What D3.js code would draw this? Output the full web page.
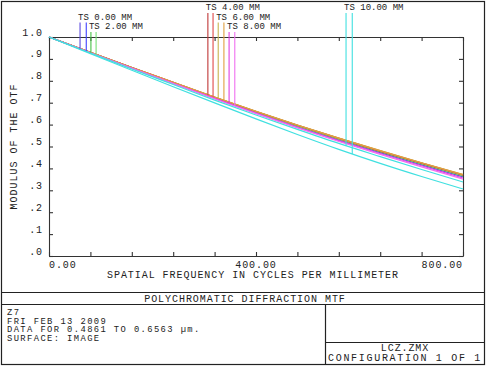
<!DOCTYPE html>
<html><head><meta charset="utf-8">
<script src="https://cdn.jsdelivr.net/npm/d3@7"></script>
<style>
html,body{margin:0;padding:0;background:#fff;}
svg text{font-family:"Liberation Mono","DejaVu Sans Mono",monospace;fill:#222;}
</style></head>
<body><svg id="c" width="490" height="367"></svg>
<script>
// ---- data ----
const freqs = [0,80,160,240,320,400,480,560,640,720,800];
const xTickValues = [0,80,160,240,320,400,480,560,640,720,800];
const xTickLabels = ["0.00","","","","","400.00","","","","","800.00"];
const yTickValues = [0,0.1,0.2,0.3,0.4,0.5,0.6,0.7,0.8,0.9,1.0];
const yTickLabels = [".0",".1",".2",".3",".4",".5",".6",".7",".8",".9","1.0"];
const fieldNames = ["TS 0.00 MM","TS 2.00 MM","TS 4.00 MM","TS 6.00 MM","TS 8.00 MM","TS 10.00 MM"];
// MTF per field, tangential (T) and sagittal (S)
const mtf0T  = [1.000,0.929,0.859,0.790,0.722,0.656,0.592,0.531,0.473,0.417,0.362];
const mtf0S  = [1.000,0.929,0.859,0.790,0.722,0.656,0.592,0.531,0.473,0.417,0.362];
const mtf2T  = [1.000,0.929,0.860,0.791,0.724,0.658,0.594,0.534,0.476,0.421,0.366];
const mtf2S  = [1.000,0.929,0.860,0.791,0.724,0.658,0.594,0.534,0.476,0.421,0.366];
const mtf4T  = [1.000,0.930,0.861,0.793,0.725,0.660,0.597,0.537,0.479,0.424,0.370];
const mtf4S  = [1.000,0.930,0.861,0.793,0.725,0.660,0.597,0.537,0.479,0.424,0.369];
const mtf6T  = [1.000,0.930,0.861,0.793,0.726,0.661,0.598,0.538,0.481,0.426,0.372];
const mtf6S  = [1.000,0.930,0.861,0.793,0.726,0.661,0.598,0.538,0.481,0.426,0.372];
const mtf8T  = [1.000,0.928,0.858,0.788,0.720,0.653,0.588,0.527,0.468,0.412,0.356];
const mtf8S  = [1.000,0.928,0.857,0.787,0.718,0.650,0.585,0.523,0.464,0.407,0.351];
const mtf10T = [1.000,0.927,0.854,0.783,0.712,0.644,0.578,0.514,0.454,0.395,0.338];
const mtf10S = [1.000,0.924,0.848,0.773,0.699,0.626,0.555,0.487,0.423,0.363,0.306];
// legend marker frequencies (T line, S line) and label rows
const markerFreqs = [[60,72],[81,91],[307,317],[327,338],[348,359],[574,586]];
const labelRows = [1,2,0,1,2,0];
const colorsT = ["#5a48e0","#44c044","#c03838","#c8b450","#e040e0","#40e0e0"];
const colorsS = ["#4040ff","#78e078","#e04848","#e0a040","#f070f0","#40e0e0"];
const infoLines = ["Z7","FRI FEB 13 2009","DATA FOR 0.4861 TO 0.6563 \u00b5m.","SURFACE: IMAGE"];

// ---- drawing ----
const svg = d3.select("#c");
const L=49, R=463, T=37, B=256;
const x = d3.scaleLinear().domain([0,800]).range([L,R]);
const y = d3.scaleLinear().domain([0,1]).range([B,T]);

const series = [
  {f:0,k:"T",v:mtf0T},{f:0,k:"S",v:mtf0S},
  {f:1,k:"T",v:mtf2T},{f:1,k:"S",v:mtf2S},
  {f:2,k:"T",v:mtf4T},{f:2,k:"S",v:mtf4S},
  {f:3,k:"T",v:mtf6T},{f:3,k:"S",v:mtf6S},
  {f:4,k:"T",v:mtf8T},{f:4,k:"S",v:mtf8S},
  {f:5,k:"T",v:mtf10T},{f:5,k:"S",v:mtf10S}
];

// outer frame & info boxes
const fr = svg.append("g").attr("stroke","#222").attr("fill","none").attr("stroke-width",1.2);
fr.append("rect").attr("x",1.5).attr("y",1.5).attr("width",483).attr("height",363);
fr.append("line").attr("x1",1.5).attr("x2",484.5).attr("y1",292.5).attr("y2",292.5);
fr.append("line").attr("x1",1.5).attr("x2",484.5).attr("y1",304.5).attr("y2",304.5);
fr.append("line").attr("x1",325.5).attr("x2",325.5).attr("y1",304.5).attr("y2",364.5);
fr.append("line").attr("x1",325.5).attr("x2",484.5).attr("y1",342.5).attr("y2",342.5);

// axes
const xb = d3.axisBottom(x).tickValues(xTickValues).tickSizeInner(-4).tickSizeOuter(0).tickFormat("");
const xt = d3.axisTop(x).tickValues(xTickValues).tickSizeInner(-4).tickSizeOuter(0).tickFormat("");
const yl = d3.axisLeft(y).tickValues(yTickValues).tickSizeInner(-4).tickSizeOuter(0).tickFormat("");
const yr = d3.axisRight(y).tickValues(yTickValues).tickSizeInner(-4).tickSizeOuter(0).tickFormat("");
[[xb,`translate(0,${B})`],[xt,`translate(0,${T})`],[yl,`translate(${L},0)`],[yr,`translate(${R},0)`]].forEach(([a,t])=>{
  const g = svg.append("g").attr("transform",t).call(a);
  g.selectAll("path,line").attr("stroke","#333").attr("stroke-width",1.1);
});

// x tick labels
xTickValues.forEach((v,i)=>{
  if(!xTickLabels[i]) return;
  const anchor = i===0 ? "start" : (i===xTickValues.length-1 ? "end" : "middle");
  svg.append("text").attr("x",x(v)).attr("y",268).attr("text-anchor",anchor)
    .attr("font-size",10).attr("letter-spacing",0.9).text(xTickLabels[i]);
});
// y tick labels
yTickValues.forEach((v,i)=>{
  svg.append("text").attr("x",43).attr("y",y(v)-1.5).attr("text-anchor","end")
    .attr("font-size",10).attr("letter-spacing",0.9).text(yTickLabels[i]);
});
// axis titles
svg.append("text").attr("x",(L+R)/2-3).attr("y",278).attr("text-anchor","middle")
  .attr("font-size",10).attr("letter-spacing",0.95).text("SPATIAL FREQUENCY IN CYCLES PER MILLIMETER");
svg.append("text").attr("transform",`translate(17,${(T+B)/2}) rotate(-90)`).attr("text-anchor","middle")
  .attr("font-size",10).attr("letter-spacing",1.0).text("MODULUS OF THE OTF");

// curves
const line = d3.line().x((d,i)=>x(freqs[i])).y(d=>y(d)).curve(d3.curveMonotoneX);
series.forEach(s=>{
  svg.append("path").attr("d",line(s.v)).attr("fill","none")
    .attr("stroke", s.k==="T"?colorsT[s.f]:colorsS[s.f]).attr("stroke-width",1.2);
});

// legend labels and marker lines
const rowY = [10,19.5,29];
const rowTop = [13,22.5,32];
const interp = arr => d3.scaleLinear().domain(freqs).range(arr);
fieldNames.forEach((name,f)=>{
  const [fT,fS] = markerFreqs[f];
  const sT = series.find(s=>s.f===f&&s.k==="T");
  const sS = series.find(s=>s.f===f&&s.k==="S");
  const r = labelRows[f];
  svg.append("line").attr("x1",x(fT)).attr("x2",x(fT)).attr("y1",rowTop[r]).attr("y2",y(interp(sT.v)(fT)))
    .attr("stroke",colorsT[f]).attr("stroke-width",1.1);
  svg.append("line").attr("x1",x(fS)).attr("x2",x(fS)).attr("y1",rowTop[r]).attr("y2",y(interp(sS.v)(fS)))
    .attr("stroke",colorsS[f]).attr("stroke-width",1.1);
  svg.append("text").attr("x",x(fT)-2).attr("y",rowY[r]).attr("font-size",9).text(name);
});

// title & info
svg.append("text").attr("x",245).attr("y",302).attr("text-anchor","middle")
  .attr("font-size",10).attr("letter-spacing",0.95).text("POLYCHROMATIC DIFFRACTION MTF");
infoLines.forEach((t,i)=>{
  svg.append("text").attr("x",7).attr("y",315+i*8.6).attr("font-size",8.8).attr("letter-spacing",1.4).text(t);
});
svg.append("text").attr("x",405).attr("y",351).attr("text-anchor","middle")
  .attr("font-size",10).attr("letter-spacing",0.9).text("LCZ.ZMX");
svg.append("text").attr("x",405).attr("y",361).attr("text-anchor","middle")
  .attr("font-size",10).attr("letter-spacing",1.7).text("CONFIGURATION 1 OF 1");
</script></body></html>
